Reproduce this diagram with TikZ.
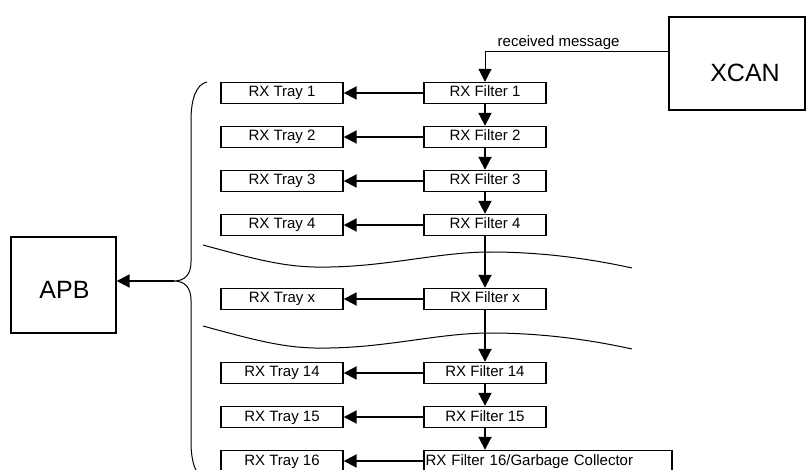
\documentclass[tikz,border=0pt]{standalone}
\usepackage{fontspec}
\setmainfont{Liberation Sans}
\usetikzlibrary{arrows.meta}

\tikzset{
	rxbox/.style={draw,line width=1.4pt,minimum width=122pt,minimum height=21pt,inner sep=0pt,text height=11pt,text depth=3pt,font=\fontsize{15}{18}\selectfont},
	bigbox/.style={draw,line width=1.4pt,inner sep=0pt},
	bigtext/.style={font=\fontsize{25}{30}\selectfont},
	arr/.style={-{Triangle[length=13pt,width=13pt]},line width=2pt},
	thinline/.style={line width=1pt},
}

\begin{document}
\begin{tikzpicture}[x=1pt,y=-1pt]
				\useasboundingbox (0,0) rectangle (806,470);
				\clip (0,0) rectangle (806,470);
				%\draw [help lines,step=20] (0,0) grid (806,470);
				\node[bigbox,minimum width=136pt,minimum height=93pt,label={[bigtext,xshift=8pt,yshift=-9pt]center:XCAN}] (xcan) at (737,63.5) {};
				\node[bigbox,minimum width=105pt,minimum height=96pt,label={[bigtext,xshift=1pt,yshift=-5pt]center:APB}] (apb) at (63.5,285) {};
				% filters
				\node[rxbox] (f1) at (485,93) {RX Filter 1};
				\node[rxbox] (f2) at (485,137) {RX Filter 2};
				\node[rxbox] (f3) at (485,181) {RX Filter 3};
				\node[rxbox] (f4) at (485,225) {RX Filter 4};
				\node[rxbox] (fx) at (485,299) {RX Filter x};
				\node[rxbox] (f14) at (485,373) {RX Filter 14};
				\node[rxbox] (f15) at (485,417) {RX Filter 15};
				\node[rxbox,minimum width=248pt,text width=245pt,align=left] (f16) at (548,461) {RX Filter 16/Garbage Collector};
				% trays
				\node[rxbox] (t1) at (282,93) {RX Tray 1};
				\node[rxbox] (t2) at (282,137) {RX Tray 2};
				\node[rxbox] (t3) at (282,181) {RX Tray 3};
				\node[rxbox] (t4) at (282,225) {RX Tray 4};
				\node[rxbox] (tx) at (282,299) {RX Tray x};
				\node[rxbox] (t14) at (282,373) {RX Tray 14};
				\node[rxbox] (t15) at (282,417) {RX Tray 15};
				\node[rxbox] (t16) at (282,461) {RX Tray 16};
				% received message
				\coordinate (rxin) at (669,52);
				\draw[arr,line width=1pt] (rxin) -| node[above,pos=0.3,font=\fontsize{15}{18}\selectfont,inner sep=2pt] {received message} (f1.north);
				\draw[arr] (f1) -- (f2);
				\draw[arr] (f2) -- (f3);
				\draw[arr] (f3) -- (f4);
				\draw[arr] (f4) -- (fx);
				\draw[arr] (fx) -- (f14);
				\draw[arr] (f14) -- (f15);
				\draw[arr] (f15.south) -- (f15.south |- f16.north);
				\draw[arr] (f1) -- (t1);
				\draw[arr] (f2) -- (t2);
				\draw[arr] (f3) -- (t3);
				\draw[arr] (f4) -- (t4);
				\draw[arr] (fx) -- (tx);
				\draw[arr] (f14) -- (t14);
				\draw[arr] (f15) -- (t15);
				\draw[arr] (f16.west) -- (t16);
				% gaps
				\draw[thinline] (203,245) .. controls (265,262) and (290,268) .. (330,267) .. controls (390,266) and (440,252) .. (490,252) .. controls (550,252) and (600,261) .. (632,268);
				\draw[thinline,yshift=-81pt] (203,245) .. controls (265,262) and (290,268) .. (330,267) .. controls (390,266) and (440,252) .. (490,252) .. controls (550,252) and (600,261) .. (632,268);
				% brace
				\coordinate (tip) at (174,281);
				\draw[thinline] (207,82) .. controls (196,84) and (191,100) .. (191,120) -- (191,262) .. controls (191,274) and (185,281) .. (tip) .. controls (185,281) and (191,288) .. (191,300) -- (191,442) .. controls (191,462) and (196,478) .. (207,480);
				\draw[arr] (tip) -- (tip -| apb.east);
\end{tikzpicture}
\end{document}
